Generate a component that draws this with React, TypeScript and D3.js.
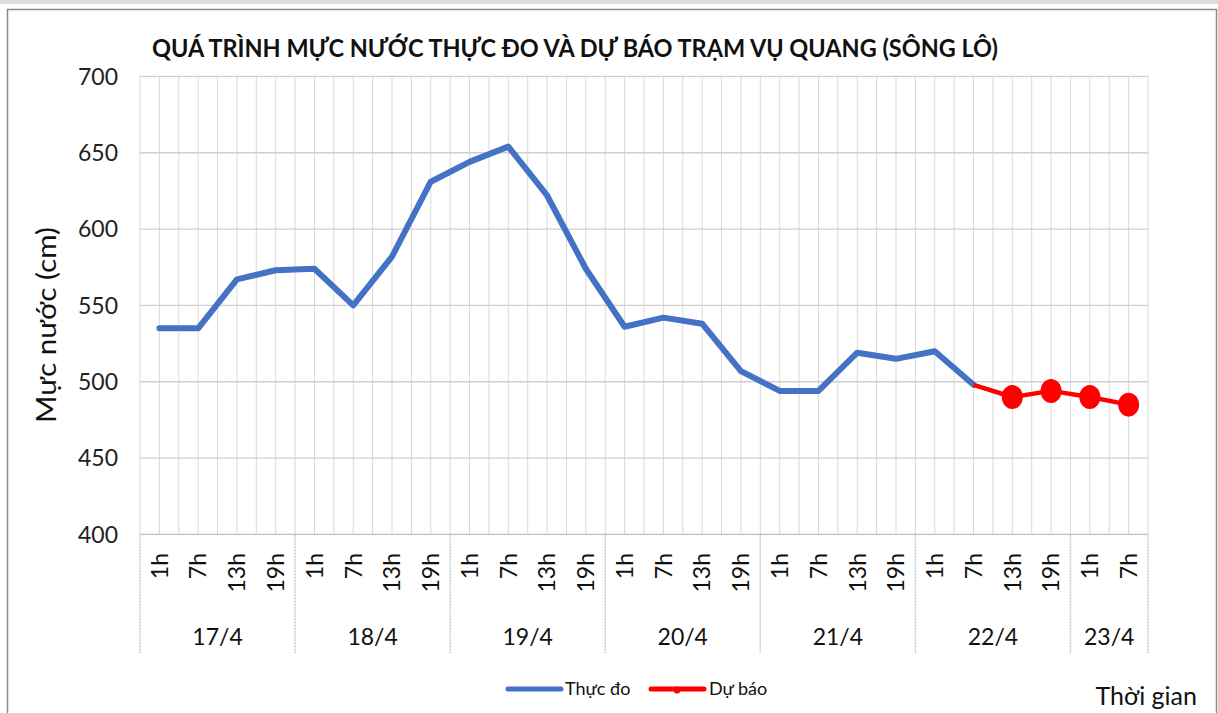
import * as d3 from "d3"

const days = ["17/4", "18/4", "19/4", "20/4", "21/4", "22/4", "23/4"]
const hoursPerDay = [
    ["1h", "7h", "13h", "19h"],
    ["1h", "7h", "13h", "19h"],
    ["1h", "7h", "13h", "19h"],
    ["1h", "7h", "13h", "19h"],
    ["1h", "7h", "13h", "19h"],
    ["1h", "7h", "13h", "19h"],
    ["1h", "7h"],
]
// measured water level (cm), from 17/4 1h to 22/4 7h
const measured = [535, 535, 567, 573, 574, 550, 582, 631, 644, 654, 622, 574, 536, 542, 538, 507, 494, 494, 519, 515, 520, 498]
// forecast, starts at the last measured point (22/4 7h)
const forecast = [498, 490, 494, 490, 485]
const yTicks = [400, 450, 500, 550, 600, 650, 700]

const title = "QUÁ TRÌNH MỰC NƯỚC THỰC ĐO VÀ DỰ BÁO TRẠM VỤ QUANG (SÔNG LÔ)"
const yLabel = "Mực nước (cm)"
const xLabel = "Thời gian"
const measuredName = "Thực đo"
const forecastName = "Dự báo"

const BLUE = "#4472C4"
const RED = "#FF0000"
const GRID = "#d9d9d9"
const FONT = "Lato, 'Open Sans', sans-serif"

export default function App() {
    const width = 1218
    const height = 713
    const left = 140
    const right = 1148
    const top = 76.4
    const bottom = 534.4

    const cats = hoursPerDay.flatMap((hrs, d) => hrs.map(h => `${days[d]} ${h}`))
    const x = d3.scaleBand<string>().domain(cats).range([left, right]).padding(0)
    const bw = x.bandwidth()
    const cx = (i: number) => (x(cats[i]) ?? 0) + bw / 2
    const y = d3.scaleLinear().domain([400, 700]).range([bottom, top])

    const line = d3.line<[number, number]>().x(d => cx(d[0])).y(d => y(d[1]))
    const measuredPts: [number, number][] = measured.map((v, i) => [i, v])
    const fStart = measured.length - 1
    const forecastPts: [number, number][] = forecast.map((v, i) => [fStart + i, v])

    // vertical gridlines at band edges and centers
    const vLines: number[] = []
    cats.forEach((c, i) => {
        vLines.push(x(c) ?? 0)
        vLines.push(cx(i))
    })
    vLines.push(right)

    // group boundaries
    const groupEdges: number[] = [left]
    let acc = 0
    hoursPerDay.forEach(hrs => {
        acc += hrs.length
        groupEdges.push(left + acc * bw)
    })

    let idx = 0
    const hourLabels: { x: number, t: string }[] = []
    hoursPerDay.forEach(hrs => hrs.forEach(h => { hourLabels.push({ x: cx(idx), t: h }); idx++ }))

    return (
        <svg width={width} height={height} style={{ position: "absolute", left: 0, top: 0, display: "block", background: "#fff" }}
            fontFamily={FONT}>
            <rect x={0} y={0} width={width} height={4} fill="#dcdcdc" />
            <rect x={7.5} y={9.5} width={1209} height={720} fill="#fff" stroke="#8c8c8c" strokeWidth={1.5} />

            <text x={152} y={57} fontSize={25} fontWeight="bold" fill="#111" textLength={846} lengthAdjust="spacingAndGlyphs">{title}</text>

            {/* grid */}
            {vLines.map((vx, i) => (
                <line key={"v" + i} x1={vx} x2={vx} y1={top} y2={bottom} stroke={GRID} strokeWidth={1} />
            ))}
            {yTicks.map(t => (
                <line key={"h" + t} x1={left} x2={right} y1={y(t)} y2={y(t)} stroke={t === 400 ? "#bfbfbf" : "#cfcfcf"} strokeWidth={1.3} />
            ))}

            {/* y axis labels */}
            {yTicks.map(t => (
                <text key={"yt" + t} x={118} y={y(t)} dy="0.36em" textAnchor="end" fontSize={23} fill="#222">{t}</text>
            ))}
            <text transform={`translate(46,${325}) rotate(-90)`} textAnchor="middle" dy="0.36em" fontSize={27} fill="#111"
                textLength={196} lengthAdjust="spacingAndGlyphs">{yLabel}</text>

            {/* x axis */}
            {groupEdges.map((gx, i) => (
                <line key={"g" + i} x1={gx} x2={gx} y1={bottom} y2={653} stroke="#c8c8c8" strokeWidth={1.5} strokeDasharray="2,1" />
            ))}
            {hourLabels.map((h, i) => (
                <text key={"hl" + i} transform={`translate(${h.x},553) rotate(-90)`} textAnchor="end" dy="0.36em" fontSize={23} fill="#111">{h.t}</text>
            ))}
            {days.map((d, i) => (
                <text key={"d" + i} x={(groupEdges[i] + groupEdges[i + 1]) / 2} y={645} textAnchor="middle" fontSize={23} fill="#111">{d}</text>
            ))}

            {/* series */}
            <path d={line(measuredPts) ?? ""} fill="none" stroke={BLUE} strokeWidth={6} strokeLinejoin="round" strokeLinecap="round" />
            <path d={line(forecastPts) ?? ""} fill="none" stroke={RED} strokeWidth={4.5} strokeLinejoin="round" />
            {forecastPts.slice(1).map(p => (
                <ellipse key={"m" + p[0]} cx={cx(p[0])} cy={y(p[1])} rx={10.5} ry={12} fill={RED} />
            ))}

            {/* legend */}
            <line x1={508} x2={561} y1={689} y2={689} stroke={BLUE} strokeWidth={5} strokeLinecap="round" />
            <text x={565} y={695} fontSize={18} fill="#111">{measuredName}</text>
            <line x1={651} x2={704} y1={689} y2={689} stroke={RED} strokeWidth={5} strokeLinecap="round" />
            <circle cx={677} cy={690} r={3.5} fill={RED} />
            <text x={709} y={695} fontSize={18} fill="#111">{forecastName}</text>

            <text x={1197} y={705} textAnchor="end" fontSize={25} fill="#111">{xLabel}</text>
        </svg>
    )
}
